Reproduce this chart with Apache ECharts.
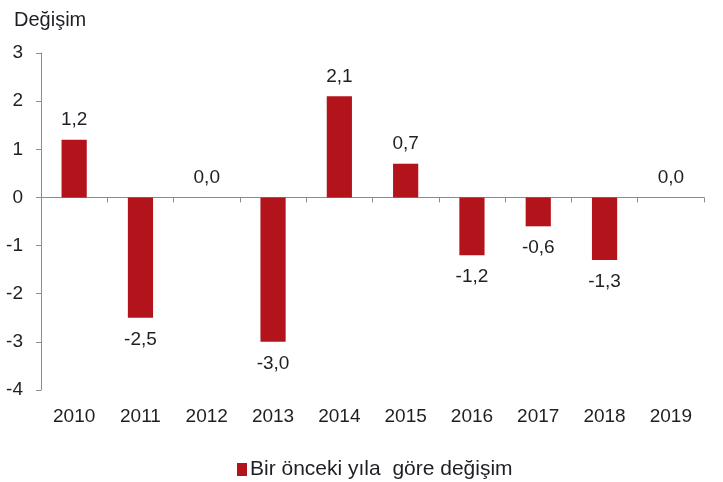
<!DOCTYPE html>
<html>
<head>
<meta charset="utf-8">
<script src="https://cdn.jsdelivr.net/npm/echarts@6/dist/echarts.min.js"></script>
<style>
  html, body { margin: 0; padding: 0; background: #fff; }
  #chart { width: 723px; height: 482px; }
</style>
</head>
<body>
<div id="chart"></div>
<script>
// yıllar ve değişim değerleri
var years = ['2010', '2011', '2012', '2013', '2014', '2015', '2016', '2017', '2018', '2019'];
var degisim = [1.2, -2.5, 0.0, -3.0, 2.1, 0.7, -1.2, -0.6, -1.3, 0.0];
var yTicks = [-4, -3, -2, -1, 0, 1, 2, 3];

var seriesName = 'Bir önceki yıla  göre değişim';
var barColor = '#B3141C';
var axisColor = '#8c8c8c';
var textColor = '#1e1e24';
var font = '"Liberation Sans", Arial, sans-serif';

function fmt(v) {
  return v.toFixed(1).replace('.', ',');
}

var barData = [];
for (var i = 0; i < degisim.length; i++) {
  var neg = degisim[i] < 0;
  barData.push({
    value: degisim[i],
    label: { position: neg ? 'bottom' : 'top', distance: neg ? 12 : 10 }
  });
}

var myChart = echarts.init(document.getElementById('chart'));
var option = {
  animation: false,
  backgroundColor: '#fff',
  title: {
    text: 'Değişim',
    left: 9,
    top: 5,
    textStyle: { fontFamily: font, fontSize: 20, fontWeight: 'normal', color: textColor }
  },
  legend: {
    top: 454,
    left: 232,
    itemWidth: 10,
    itemHeight: 13,
    itemGap: 5,
    icon: 'rect',
    textStyle: { fontFamily: font, fontSize: 21, color: textColor, padding: [0, 0, 0, -2] },
    data: [seriesName]
  },
  grid: { left: 41, right: 19, top: 53, bottom: 92 },
  xAxis: [
    {
      type: 'category',
      data: years,
      position: 'bottom',
      axisLine: { show: false, onZero: false },
      axisTick: { show: false },
      axisLabel: { fontFamily: font, fontSize: 19, color: textColor, margin: 17 }
    },
    {
      type: 'category',
      data: years,
      position: 'bottom',
      axisLine: { show: true, onZero: true, lineStyle: { color: axisColor, width: 1 } },
      axisTick: { show: true, length: 5, lineStyle: { color: axisColor } },
      axisLabel: { show: false }
    }
  ],
  yAxis: {
    type: 'value',
    min: yTicks[0],
    max: yTicks[yTicks.length - 1],
    interval: 1,
    splitLine: { show: false },
    axisLine: { show: true, lineStyle: { color: axisColor, width: 1 } },
    axisTick: { show: true, length: 5, lineStyle: { color: axisColor } },
    axisLabel: {
      fontFamily: font, fontSize: 19, color: textColor, margin: 18,
      formatter: function (v) { return String(v); }
    }
  },
  series: [{
    name: seriesName,
    type: 'bar',
    xAxisIndex: 0,
    barWidth: '38%',
    itemStyle: { color: barColor },
    label: {
      show: true,
      fontFamily: font,
      fontSize: 19,
      color: textColor,
      formatter: function (p) { return fmt(p.value); }
    },
    data: barData
  }]
};
myChart.setOption(option);
</script>
</body>
</html>
